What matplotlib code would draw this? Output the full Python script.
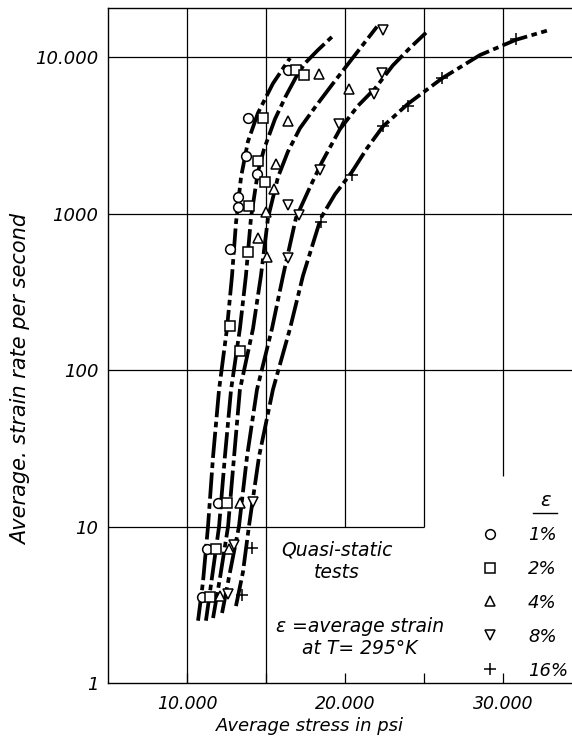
import matplotlib.pyplot as plt
from matplotlib.lines import Line2D
from matplotlib.ticker import NullLocator

plt.rcParams['font.family'] = ['DejaVu Sans']
plt.rcParams['font.style'] = 'italic'

# fitted curves (stress psi, strain rate 1/s)
c1_x = [10700, 11010, 11330, 11650, 12030, 12530, 12850, 13100, 13420, 13860, 14490, 15440, 16520]
c1_y = [2.5, 4.4, 10, 28, 75, 184, 400, 870, 1710, 2890, 4390, 6780, 9860]

c2_x = [11200, 11580, 12030, 12400, 12790, 13350, 13730, 14050, 14490, 14870, 15570, 16270, 16960, 17470, 18290, 19180]
c2_y = [2.5, 4.7, 10, 28, 75, 184, 400, 940, 1845, 2570, 4020, 5670, 7640, 9140, 11100, 13490]

c4_x = [11650, 12090, 12600, 12980, 13350, 14180, 14680, 15130, 15760, 16390, 17150, 18170, 19240, 20630, 22030]
c4_y = [2.6, 4.7, 10, 28, 75, 184, 400, 940, 1710, 2490, 3510, 4880, 6780, 10300, 15670]

c8_x = [12220, 12720, 13290, 13800, 14430, 15380, 16080, 16900, 17790, 18550, 19680, 20820, 21900, 23040, 24110, 25130]
c8_y = [2.8, 5.1, 10, 28, 75, 184, 400, 940, 1480, 2140, 3460, 4880, 6300, 8870, 11440, 14320]

c16_x = [13100, 13540, 13920, 14560, 15440, 16520, 17340, 18480, 19370, 20440, 21390, 22410, 23990, 26140, 28540, 30820, 32780]
c16_y = [3.1, 5.1, 10, 28, 75, 184, 400, 940, 1330, 1845, 2610, 3610, 5030, 7310, 10300, 12900, 14750]

# measured points
p1_x = [16390, 13860, 13730, 14430, 13230, 13230, 12720, 11960, 11270, 10950]
p1_y = [8240, 4080, 2350, 1790, 1270, 1100, 598, 14.2, 7.2, 3.55]

p2_x = [16900, 17400, 14810, 14490, 14940, 13920, 13860, 12720, 13350, 12530, 11840, 11460]
p2_y = [8240, 7640, 4080, 2180, 1590, 1110, 572, 192, 132, 14.2, 7.2, 3.55]

p4_x = [18350, 20250, 16390, 15630, 15510, 15000, 14490, 15060, 13350, 12660, 12090]
p4_y = [7760, 6290, 3900, 2080, 1430, 1030, 700, 528, 14.2, 7.2, 3.6]

p8_x = [22400, 22340, 21840, 19620, 18420, 17090, 16390, 16390, 14180, 12970, 12600]
p8_y = [14970, 7870, 5840, 3730, 1900, 985, 1140, 520, 14.4, 7.6, 3.7]

p16_x = [30820, 26140, 23990, 22410, 20440, 18480, 14110, 13480]
p16_y = [13090, 7310, 4880, 3610, 1770, 883, 7.3, 3.65]

labels = ['1%', '2%', '4%', '8%', '16%']

fig = plt.figure(figsize=(5.72, 7.47), dpi=100)
ax = fig.add_axes([0.1888, 0.0857, 0.8112, 0.9036])
ax.set_yscale('log')
ax.set_xlim(5000, 34370)
ax.set_ylim(1, 20600)

# hand drawn style grid
for gx in [10000, 15000]:
    ax.axvline(gx, color='k', lw=0.9, zorder=1)
ax.vlines([20000, 25000], 10, 20600, color='k', lw=0.9, zorder=1)
ax.vlines(30000, 21, 20600, color='k', lw=0.9, zorder=1)
for gy in [100, 1000, 10000]:
    ax.axhline(gy, color='k', lw=0.9, zorder=1)
ax.hlines(10, 5000, 25000, color='k', lw=0.9, zorder=1)

dash = (0, (7, 1.2, 1.5, 1.2))
for cx, cy in [(c1_x, c1_y), (c2_x, c2_y), (c4_x, c4_y), (c8_x, c8_y), (c16_x, c16_y)]:
    ax.plot(cx, cy, color='k', lw=2.7, ls=dash, zorder=3)

mk = dict(ls='none', mfc='white', mec='k', mew=1.1, zorder=5)
ax.plot(p1_x, p1_y, marker='o', ms=7, label=labels[0], **mk)
ax.plot(p2_x, p2_y, marker='s', ms=6.5, label=labels[1], **mk)
ax.plot(p4_x, p4_y, marker='^', ms=7.5, label=labels[2], **mk)
ax.plot(p8_x, p8_y, marker='v', ms=7.5, label=labels[3], **mk)
ax.plot(p16_x, p16_y, marker='+', ms=9, label=labels[4], **mk)

ax.set_xticks([10000, 15000, 20000, 25000, 30000])
ax.set_xticklabels(['10.000', '', '20.000', '', '30.000'], fontsize=12.5)
ax.set_yticks([1, 10, 100, 1000, 10000])
ax.set_yticklabels(['1', '10', '100', '1000', '10.000'], fontsize=13)
ax.yaxis.set_minor_locator(NullLocator())
ax.tick_params(axis='y', length=0, pad=7)
ax.tick_params(axis='x', direction='in', length=7, width=0.9, pad=9)

for s in ax.spines.values():
    s.set_linewidth(1.0)
ax.spines['right'].set_visible(False)

ax.set_xlabel('Average stress in psi', fontsize=13)
ax.xaxis.set_label_coords(0.435, -0.05)
ax.set_ylabel('Average. strain rate per second', fontsize=15)
ax.yaxis.set_label_coords(-0.165, 0.45)

fig.text(337 / 572, (747 - 561) / 747, 'Quasi-static\ntests', ha='center', va='center',
         fontsize=13.5, linespacing=1.25)
fig.text(360 / 572, (747 - 638) / 747, 'ε =average strain\nat T= 295°K', ha='center',
         va='center', fontsize=13.5, linespacing=1.2)

# legend with underlined epsilon header
fig.text(545 / 572, (747 - 500) / 747, 'ε', ha='center', va='center', fontsize=14)
fig.add_artist(Line2D([533 / 572, 557 / 572], [(747 - 513) / 747] * 2, color='k', lw=1))
ax.legend(loc='upper left', bbox_to_anchor=(481 / 572, (747 - 526) / 747),
          bbox_transform=fig.transFigure, frameon=False, fontsize=13,
          handlelength=1, handletextpad=1.6, labelspacing=0.88,
          borderpad=0, borderaxespad=0)

fig.savefig('out.png', dpi=100)
